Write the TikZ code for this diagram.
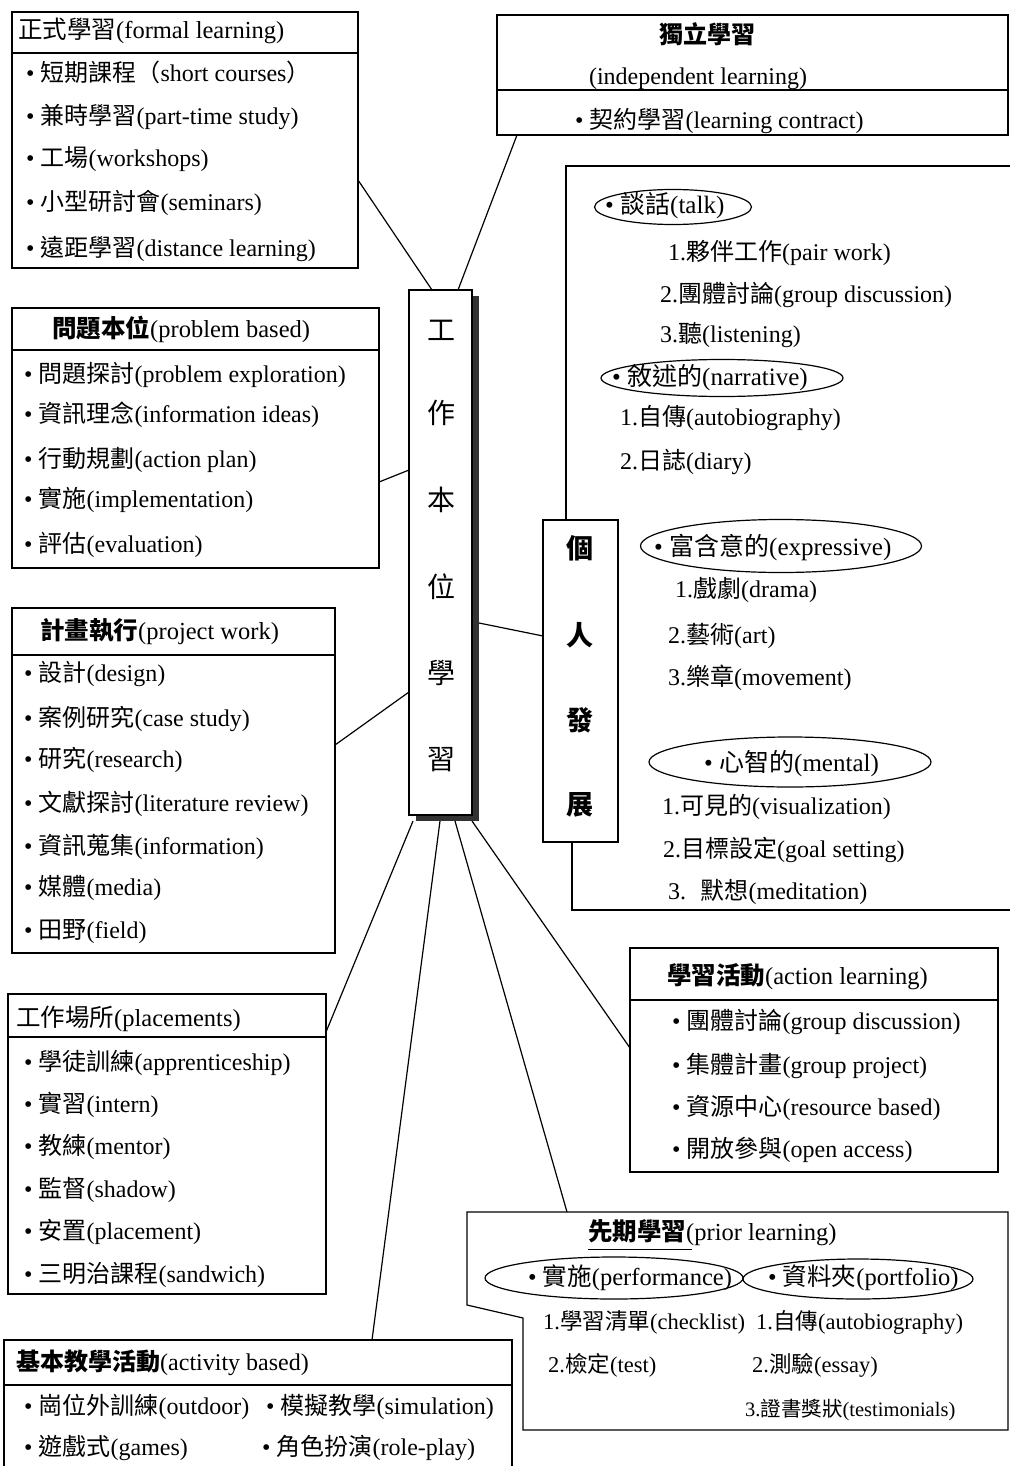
\documentclass[tikz,border=0pt]{standalone}
\usepackage{fontspec}
\setmainfont{Liberation Serif}
\newfontfamily\cjk{Noto Sans CJK TC}
\usetikzlibrary{calc,shapes.geometric}
\newcommand\zh[1]{{\cjk #1}}
\newcommand\zhb[1]{{\cjk\bfseries #1}}
\begin{document}
\begin{tikzpicture}[x=1pt,y=-1pt,
  frame/.style={draw, line width=1.2pt, anchor=north west, inner sep=0, outer sep=0},
  txt/.style={anchor=west, inner sep=0, text height=19pt, text depth=5pt, font=\fontsize{24}{28}\selectfont},
  ctxt/.style={txt, anchor=center},
  sm/.style={txt, font=\fontsize{22.5}{26}\selectfont},
  big/.style={txt, font=\fontsize{24.5}{28}\selectfont},
  olab/.style={txt, font=\fontsize{25}{28}\selectfont},
  plab/.style={txt, font=\fontsize{24.5}{28}\selectfont},
  tiny/.style={txt, font=\fontsize{20.5}{24}\selectfont},
  oval/.style={draw, ellipse, line width=1.2pt, inner sep=0},
  link/.style={line width=1.2pt},
  vchar/.style={inner sep=0, font=\fontsize{28}{28}\selectfont\cjk},
  vcharb/.style={inner sep=0, font=\fontsize{27}{27}\selectfont\cjk\bfseries},
]
\useasboundingbox[fill=white] (0,0) rectangle (1010,1466);

% ---------- formal learning ----------
\node[frame, minimum width=346, minimum height=256] (formal) at (12,12) {};
\draw[link] (formal.west |- 0,53) -- (formal.east |- 0,53);
\node[big] (f0) at (18,32) {\zh{正式學習}(formal learning)};
\node[txt] (f1) at (26,75) {• \zh{短期課程（}short courses\zh{）}};
\node[txt] (f2) at (26,118) {• \zh{兼時學習}(part-time study)};
\node[txt] (f3) at (26,160) {• \zh{工場}(workshops)};
\node[txt] (f4) at (26,204) {• \zh{小型研討會}(seminars)};
\node[txt] (f5) at (26,249) {• \zh{遠距學習}(distance learning)};

% ---------- independent learning ----------
\node[frame, minimum width=511, minimum height=120] (indep) at (497,15) {};
\draw[link] (indep.west |- 0,90) -- (indep.east |- 0,90);
\node[ctxt] (i0) at (707,37) {\zhb{獨立學習}};
\node[ctxt] (i1) at (698,78) {(independent learning)};
\node[txt] (i2) at (575,122) {• \zh{契約學習}(learning contract)};

% ---------- problem based ----------
\node[frame, minimum width=367, minimum height=260] (prob) at (12,308) {};
\draw[link] (prob.west |- 0,350) -- (prob.east |- 0,350);
\node[big] (p0) at (52,330) {\zhb{問題本位}(problem based)};
\node[txt] (p1) at (24,375) {• \zh{問題探討}(problem exploration)};
\node[txt] (p2) at (24,415) {• \zh{資訊理念}(information ideas)};
\node[txt] (p3) at (24,460) {• \zh{行動規劃}(action plan)};
\node[txt] (p4) at (24,500) {• \zh{實施}(implementation)};
\node[txt] (p5) at (24,545) {• \zh{評估}(evaluation)};

% ---------- project work ----------
\node[frame, minimum width=323, minimum height=345] (proj) at (12,608) {};
\draw[link] (proj.west |- 0,655) -- (proj.east |- 0,655);
\node[big] (j0) at (40,632) {\zhb{計畫執行}(project work)};
\node[txt] (j1) at (24,674) {• \zh{設計}(design)};
\node[txt] (j2) at (24,719) {• \zh{案例研究}(case study)};
\node[txt] (j3) at (24,760) {• \zh{研究}(research)};
\node[txt] (j4) at (24,804) {• \zh{文獻探討}(literature review)};
\node[txt] (j5) at (24,847) {• \zh{資訊蒐集}(information)};
\node[txt] (j6) at (24,888) {• \zh{媒體}(media)};
\node[txt] (j7) at (24,931) {• \zh{田野}(field)};

% ---------- placements ----------
\node[frame, minimum width=318, minimum height=300] (plac) at (8,994) {};
\draw[link] (plac.west |- 0,1037) -- (plac.east |- 0,1037);
\node[big] (l0) at (16,1019) {\zh{工作場所}(placements)};
\node[txt] (l1) at (24,1063) {• \zh{學徒訓練}(apprenticeship)};
\node[txt] (l2) at (24,1105) {• \zh{實習}(intern)};
\node[txt] (l3) at (24,1147) {• \zh{教練}(mentor)};
\node[txt] (l4) at (24,1190) {• \zh{監督}(shadow)};
\node[txt] (l5) at (24,1232) {• \zh{安置}(placement)};
\node[txt] (l6) at (24,1275) {• \zh{三明治課程}(sandwich)};

% ---------- activity based ----------
\node[anchor=north west, inner sep=0, outer sep=0, minimum width=508, minimum height=126] (act) at (4,1340) {};
\draw[link] (act.south west) -- (act.north west) -- (act.north east) -- (act.south east);
\draw[link] (act.west |- 0,1385) -- (act.east |- 0,1385);
\node[txt] (a0) at (16,1363) {\zhb{基本教學活動}(activity based)};
\node[txt] (a1) at (24,1407) {• \zh{崗位外訓練}(outdoor)};
\node[txt] (a2) at (266,1407) {• \zh{模擬教學}(simulation)};
\node[txt] (a3) at (24,1448) {• \zh{遊戲式}(games)};
\node[txt] (a4) at (262,1448) {• \zh{角色扮演}(role-play)};

% ---------- action learning ----------
\node[frame, minimum width=368, minimum height=224] (actl) at (630,948) {};
\draw[link] (actl.west |- 0,1000) -- (actl.east |- 0,1000);
\node[big] (c0) at (667,977) {\zhb{學習活動}(action learning)};
\node[txt] (c1) at (672,1022) {• \zh{團體討論}(group discussion)};
\node[txt] (c2) at (672,1066) {• \zh{集體計畫}(group project)};
\node[txt] (c3) at (672,1108) {• \zh{資源中心}(resource based)};
\node[txt] (c4) at (672,1150) {• \zh{開放參與}(open access)};

% ---------- prior learning ----------
\coordinate (prior) at (567,1212);
\draw[link] (467,1212) -- (1008,1212) -- (1008,1430) -- (523,1430) -- (523,1318) -- (467,1305) -- cycle;
\node[big] (r0) at (588,1233) {\zhb{先期學習}(prior learning)};
\draw[line width=1pt] (588,1249) -- (692,1249);
\node[oval, minimum width=258, minimum height=42] (ovl) at (614,1278) {};
\node[oval, minimum width=230, minimum height=40] (ovr) at (858,1279) {};
\node[plab] (r1) at (528,1278) {• \zh{實施}(performance)};
\node[plab] (r2) at (768,1278) {• \zh{資料夾}(portfolio)};
\node[sm] (r3) at (543,1322) {1.\zh{學習清單}(checklist)};
\node[sm] (r4) at (756,1322) {1.\zh{自傳}(autobiography)};
\node[sm] (r5) at (548,1365) {2.\zh{檢定}(test)};
\node[sm] (r6) at (752,1365) {2.\zh{測驗}(essay)};
\node[tiny] (r7) at (745,1409) {3.\zh{證書獎狀}(testimonials)};

% ---------- personal development region ----------
\node[frame, minimum width=75, minimum height=322] (pd) at (543,520) {};
\node[vcharb] (pd1) at (580,548) {個};
\node[vcharb] (pd2) at (580,635) {人};
\node[vcharb] (pd3) at (580,720) {發};
\node[vcharb] (pd4) at (580,805) {展};
\draw[link] (pd.north -| 566,0) -- (566,166) -- (1010,166);
\draw[link] (pd.south -| 572,0) -- (572,910) -- (1010,910);

\node[oval, minimum width=157, minimum height=35] (ot) at (673,207) {};
\node[olab] (t0) at (605,207) {• \zh{談話}(talk)};
\node[txt] (t1) at (668,253) {1.\zh{夥伴工作}(pair work)};
\node[txt] (t2) at (660,295) {2.\zh{團體討論}(group discussion)};
\node[txt] (t3) at (660,335) {3.\zh{聽}(listening)};
\node[oval, minimum width=242, minimum height=37] (on) at (722,378) {};
\node[olab] (n0) at (612,378) {• \zh{敘述的}(narrative)};
\node[txt] (n1) at (620,418) {1.\zh{自傳}(autobiography)};
\node[txt] (n2) at (620,462) {2.\zh{日誌}(diary)};
\node[oval, minimum width=281, minimum height=53] (oe) at (781,546) {};
\node[olab] (e0) at (654,548) {• \zh{富含意的}(expressive)};
\node[txt] (e1) at (675,590) {1.\zh{戲劇}(drama)};
\node[txt] (e2) at (668,636) {2.\zh{藝術}(art)};
\node[txt] (e3) at (668,678) {3.\zh{樂章}(movement)};
\node[oval, minimum width=282, minimum height=50] (om) at (790,762) {};
\node[olab] (m0) at (704,764) {• \zh{心智的}(mental)};
\node[txt] (m1) at (662,807) {1.\zh{可見的}(visualization)};
\node[txt] (m2) at (663,850) {2.\zh{目標設定}(goal setting)};
\node[txt] (m3) at (668,892) {3.\hspace{0.6em}\zh{默想}(meditation)};

% ---------- centre ----------
\fill[black!80] (416,296) rectangle (479,821);
\node[frame, fill=white, minimum width=63, minimum height=525] (work) at (409,290) {};
\node[vchar] (w1) at (441,330) {工};
\node[vchar] (w2) at (441,413) {作};
\node[vchar] (w3) at (441,500) {本};
\node[vchar] (w4) at (441,587) {位};
\node[vchar] (w5) at (441,673) {學};
\node[vchar] (w6) at (441,760) {習};

% ---------- connectors ----------
\draw[link] (formal.east |- 0,180) -- (work.north -| 432,0);
\draw[link] (indep.south -| 517,0) -- (work.north -| 458,0);
\draw[link] (prob.east |- 0,482) -- (work.west |- 0,470);
\draw[link] (proj.east |- 0,745) -- (work.west |- 0,692);
\draw[link] ([xshift=7pt]work.east |- 0,623) -- (pd.west |- 0,636);
\draw[link] ([yshift=-6pt]work.south -| 413,0) -- (plac.east |- 0,1032);
\draw[link] ([yshift=-6pt]work.south -| 440,0) -- (act.north -| 372,0);
\draw[link] ([yshift=-6pt]work.south -| 455,0) -- (prior);
\draw[link] ([yshift=-6pt]work.south -| 472,0) -- (actl.west |- 0,1048);
\end{tikzpicture}
\end{document}
